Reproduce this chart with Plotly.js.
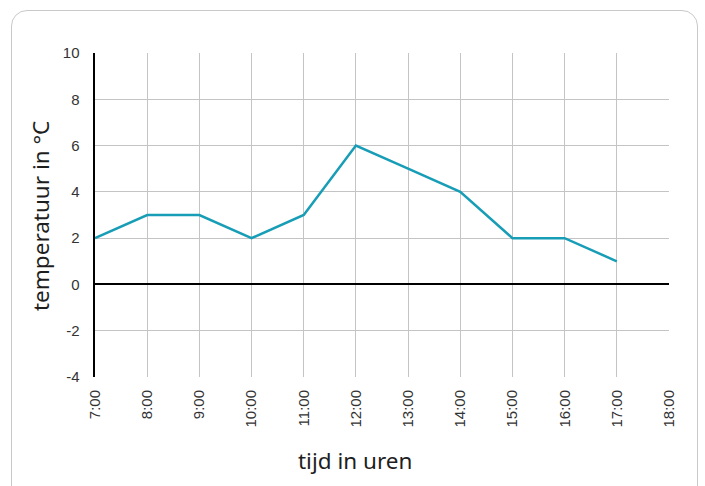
<!DOCTYPE html>
<html>
<head>
<meta charset="utf-8">
<script src="https://cdn.plot.ly/plotly-3.0.1.min.js"></script>
<style>
  html, body { margin: 0; padding: 0; background: #ffffff; }
  #wrap { position: relative; width: 705px; height: 486px; overflow: hidden; }
  #chart { position: absolute; left: 0; top: 0; width: 705px; height: 486px; }
  #frame { position: absolute; left: 11px; top: 10px; width: 685px; height: 520px;
           border: 1.5px solid #c9c9c9; border-radius: 16px; pointer-events: none; }
</style>
</head>
<body>
<div id="wrap">
  <div id="chart"></div>
  <div id="frame"></div>
</div>
<script>
const hours = [7, 8, 9, 10, 11, 12, 13, 14, 15, 16, 17];
const temperature = [2, 3, 3, 2, 3, 6, 5, 4, 2, 2, 1];
const xTickVals = [7, 8, 9, 10, 11, 12, 13, 14, 15, 16, 17, 18];
const xTickText = ["7:00", "8:00", "9:00", "10:00", "11:00", "12:00", "13:00", "14:00", "15:00", "16:00", "17:00", "18:00"];
const yTickVals = [-4, -2, 0, 2, 4, 6, 8, 10];
const yTickText = ["-4", "-2", "0", "2", "4", "6", "8", "10"];
const xTitle = "tijd in uren";
const yTitle = "temperatuur in °C";

const tickFont = { family: "Arial, sans-serif", size: 15, color: "#333333" };
const titleFont = { family: '"Noto Sans", "Open Sans", sans-serif', size: 22.5, color: "#1e1e1e" };

const trace = {
  x: hours,
  y: temperature,
  type: "scatter",
  mode: "lines",
  line: { color: "#189db7", width: 2.5 },
  hoverinfo: "skip"
};

const layout = {
  width: 705,
  height: 486,
  margin: { l: 95, r: 36, t: 53, b: 109 },
  paper_bgcolor: "#ffffff",
  plot_bgcolor: "#ffffff",
  showlegend: false,
  font: tickFont,
  xaxis: {
    range: [7, 18],
    tickvals: xTickVals,
    ticktext: xTickText,
    tickangle: -90,
    showgrid: true,
    gridcolor: "#c4c4c4",
    gridwidth: 1,
    zeroline: false,
    showline: false,
    ticks: "",
    ticklabelstandoff: 9,
    tickfont: tickFont,
    fixedrange: true
  },
  yaxis: {
    range: [-4, 10],
    tickvals: yTickVals,
    ticktext: yTickText,
    showgrid: true,
    gridcolor: "#c4c4c4",
    gridwidth: 1,
    zeroline: true,
    zerolinecolor: "#000000",
    zerolinewidth: 2,
    showline: true,
    linecolor: "#000000",
    linewidth: 2.5,
    ticks: "",
    ticklabelstandoff: 10,
    tickfont: tickFont,
    fixedrange: true
  },
  annotations: [
    {
      text: xTitle, xref: "paper", yref: "paper",
      x: (355 - 95) / 574, y: (377 - 460) / 324, xanchor: "center", yanchor: "middle",
      showarrow: false,
      font: titleFont
    },
    {
      text: yTitle, xref: "paper", yref: "paper",
      x: (40 - 95) / 574, y: (377 - 216) / 324, xanchor: "center", yanchor: "middle",
      textangle: -90, showarrow: false,
      font: titleFont
    }
  ]
};

Plotly.newPlot("chart", [trace], layout, { staticPlot: true, displayModeBar: false });
</script>
</body>
</html>
